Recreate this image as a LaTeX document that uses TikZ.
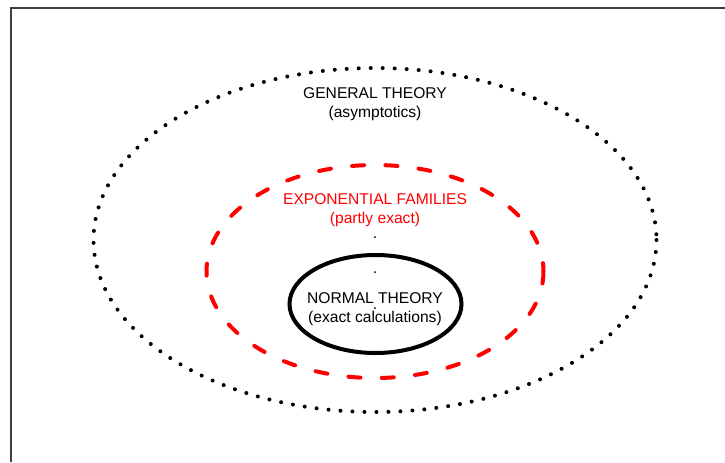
\documentclass[tikz,border=0pt]{standalone}
\usepackage{fontspec}
\setmainfont{Liberation Sans}
\usetikzlibrary{positioning}

\begin{document}
\begin{tikzpicture}[x=0.75pt,y=-0.75pt]
\useasboundingbox (0,0) rectangle (725,462);
\draw[black!75,line width=1.5pt] (10.5,462) -- (10.5,7.5) -- (725,7.5);

% centres of the three regions
\coordinate (G) at (375,240);
\coordinate (E) at (375,271.5);
\coordinate (N) at (375.5,304);

\draw[black,line width=3pt,line cap=round,dash pattern=on 0pt off 9pt] (G) ellipse [x radius=281.5,y radius=172];
\draw[red,line width=3pt,line cap=round,dash pattern=on 9pt off 16pt] (E) ellipse [x radius=168.5,y radius=106.5];
\draw[black,line width=3pt] (N) ellipse [x radius=86,y radius=49];

\fill (375,237) circle [radius=1];
\fill (375,272) circle [radius=1];
\fill (375,308) circle [radius=1];

\node[font=\fontsize{11.7}{14.3}\selectfont,align=center] (general) at (375,104) {GENERAL THEORY\\(asymptotics)};
\node[font=\fontsize{11.7}{14.3}\selectfont,align=center,text=red] (expo) at (375,210) {EXPONENTIAL FAMILIES\\(partly exact)};
\node[font=\fontsize{11.7}{14.3}\selectfont,align=center] (normal) at (375,309.5) {NORMAL THEORY\\(exact calculations)};
\end{tikzpicture}
\end{document}
